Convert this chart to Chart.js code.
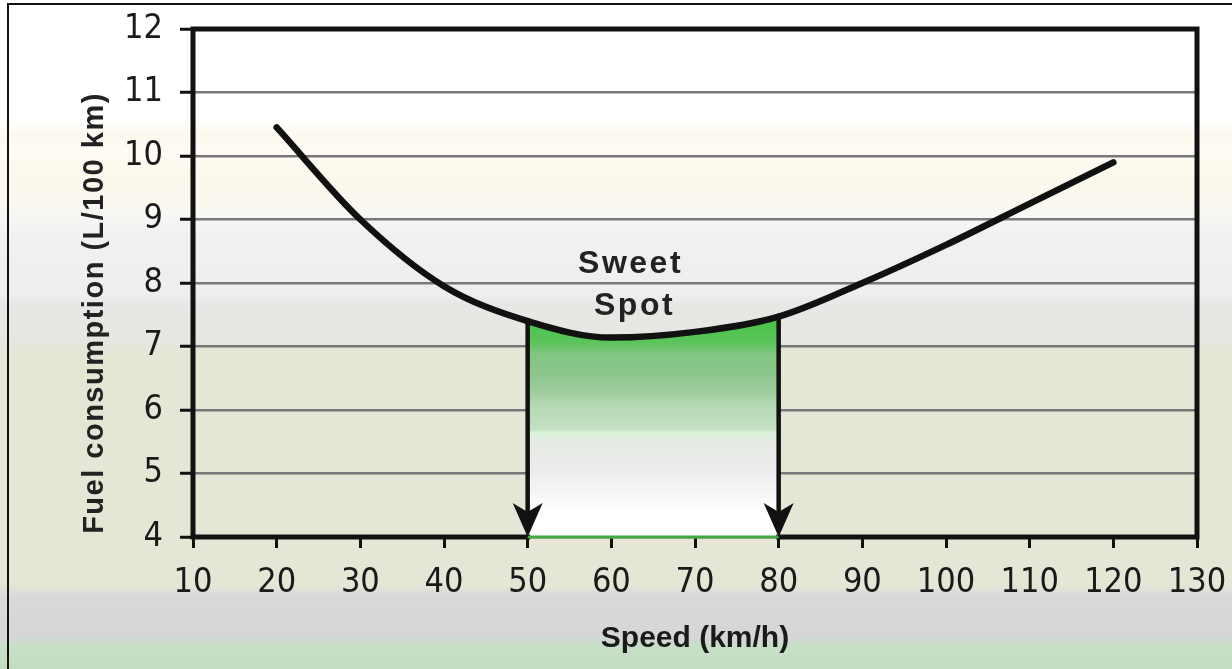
<!DOCTYPE html>
<html>
<head>
<meta charset="utf-8">
<title>Fuel consumption vs speed</title>
<script src="https://cdn.jsdelivr.net/npm/chart.js"></script>
<style>
  body { margin: 0; padding: 0; background: #fff; }
  #wrap { width: 1232px; height: 669px; }
</style>
</head>
<body>
<div id="wrap"><canvas id="fuelChart" width="1232" height="669"></canvas></div>
<script>
// speed (km/h) vs fuel use (L/100 km)
const speeds = [20, 30, 40, 50, 60, 70, 80, 90, 100, 110, 120];
const fuelUse = [10.45, 9.0, 7.95, 7.4, 7.14, 7.23, 7.47, 8.0, 8.6, 9.25, 9.9];
const sweetSpot = [50, 80];
const sweetLabel = ['Sweet', 'Spot'];
const xRange = [10, 130];
const yRange = [4, 12];
const xTitle = 'Speed (km/h)';
const yTitle = 'Fuel consumption (L/100 km)';

const tickFont = "'Liberation Sans Narrow', 'DejaVu Sans Condensed', sans-serif";
const boldFont = "'Liberation Sans', Arial, sans-serif";

let sweetGradient = 'rgba(0,0,0,0)';

// page background: soft horizontal bands
const bgPlugin = {
  id: 'bgBands',
  beforeDraw(chart) {
    const { ctx, width, height } = chart;
    const g = ctx.createLinearGradient(0, 0, 0, height);
    const stops = [
      [0, '#ffffff'], [120, '#ffffff'], [135, '#fcf9ee'], [150, '#fdfbf4'],
      [175, '#fcf8ec'], [205, '#fbf8f0'], [218, '#f6f6f4'], [235, '#f1f1ef'],
      [295, '#eeeeec'], [305, '#e7e7e5'], [340, '#e6e6e2'], [352, '#e6e6d6'],
      [585, '#e6e6d6'], [596, '#d9d9d9'], [635, '#d6d6d6'], [648, '#c6dfc6'],
      [669, '#c2ddc2']
    ];
    stops.forEach(([y, c]) => g.addColorStop(y / height, c));
    ctx.save();
    ctx.fillStyle = g;
    ctx.fillRect(0, 0, width, height);
    ctx.strokeStyle = '#111';
    ctx.lineWidth = 2;
    ctx.beginPath();
    ctx.moveTo(8, height);
    ctx.lineTo(8, 4);
    ctx.lineTo(width, 4);
    ctx.stroke();
    ctx.restore();
  }
};

// green fill gradient under the sweet spot, built from the y scale
const gradientPlugin = {
  id: 'sweetGradient',
  afterLayout(chart) {
    const y = chart.scales.y;
    const top = y.getPixelForValue(7.4);
    const bottom = y.getPixelForValue(yRange[0]);
    const g = chart.ctx.createLinearGradient(0, top, 0, bottom);
    const stops = [
      [0, '#46c446'], [0.10, '#5cc45c'], [0.15, '#80c680'], [0.24, '#8cc58c'],
      [0.34, '#a0cfa0'], [0.38, '#b3d8b3'], [0.50, '#c3e0c3'], [0.52, '#dcf4dc'],
      [0.56, '#e6ebe4'], [0.68, '#ebebeb'], [0.80, '#f6f6f6'], [0.89, '#ffffff'],
      [1, '#ffffff']
    ];
    stops.forEach(([f, c]) => g.addColorStop(f, c));
    sweetGradient = g;
  }
};

// frame, arrows, labels
const overlayPlugin = {
  id: 'overlay',
  afterDatasetsDraw(chart) {
    const { ctx, chartArea: a, scales: { x, y } } = chart;
    const meta = chart.getDatasetMeta(0);
    const x50 = x.getPixelForValue(sweetSpot[0]);
    const x80 = x.getPixelForValue(sweetSpot[1]);
    ctx.save();

    // frame
    ctx.strokeStyle = '#111';
    ctx.lineWidth = 5;
    ctx.lineCap = 'square';
    ctx.beginPath();
    ctx.moveTo(a.left, a.bottom);
    ctx.lineTo(a.left, a.top);
    ctx.lineTo(a.right, a.top);
    ctx.lineTo(a.right, a.bottom);
    ctx.lineTo(x80, a.bottom);
    ctx.moveTo(x50, a.bottom);
    ctx.lineTo(a.left, a.bottom);
    ctx.stroke();
    ctx.strokeStyle = '#45a845';
    ctx.lineWidth = 3;
    ctx.lineCap = 'butt';
    ctx.beginPath();
    ctx.moveTo(x50, a.bottom);
    ctx.lineTo(x80, a.bottom);
    ctx.stroke();

    // arrows down from the curve
    sweetSpot.forEach(v => {
      const i = speeds.indexOf(v);
      const px = x.getPixelForValue(v);
      const topY = meta.data[i].y;
      const tip = a.bottom;
      ctx.strokeStyle = '#111';
      ctx.lineWidth = 4.5;
      ctx.beginPath();
      ctx.moveTo(px, topY);
      ctx.lineTo(px, tip - 20);
      ctx.stroke();
      ctx.fillStyle = '#111';
      ctx.beginPath();
      ctx.moveTo(px, tip);
      ctx.lineTo(px - 15, tip - 34);
      ctx.lineTo(px, tip - 25);
      ctx.lineTo(px + 15, tip - 34);
      ctx.closePath();
      ctx.fill();
    });

    // "Sweet Spot"
    ctx.fillStyle = '#222';
    ctx.font = `bold 32px ${boldFont}`;
    ctx.letterSpacing = '2.5px';
    ctx.textAlign = 'center';
    ctx.textBaseline = 'alphabetic';
    const cx = x.getPixelForValue(62.3);
    ctx.fillText(sweetLabel[0], cx, y.getPixelForValue(8.16));
    ctx.fillText(sweetLabel[1], cx + 4, y.getPixelForValue(7.5));

    // y axis title
    ctx.font = `bold 29px ${boldFont}`;
    ctx.letterSpacing = '1.5px';
    ctx.textBaseline = 'middle';
    ctx.translate(95, (a.top + a.bottom) / 2 + 30);
    ctx.rotate(-Math.PI / 2);
    ctx.fillText(yTitle, 0, 0);
    ctx.restore();
  }
};

const fuelCtx = document.getElementById('fuelChart').getContext('2d');
new Chart(fuelCtx, {
  type: 'line',
  data: {
    datasets: [{
      data: speeds.map((s, i) => ({ x: s, y: fuelUse[i] })),
      borderColor: '#111',
      borderWidth: 6.5,
      borderCapStyle: 'round',
      pointRadius: 0,
      cubicInterpolationMode: 'monotone',
      fill: 'start',
      backgroundColor: 'rgba(0,0,0,0)',
      segment: {
        backgroundColor: c =>
          (c.p0.parsed.x >= sweetSpot[0] && c.p1.parsed.x <= sweetSpot[1]) ? sweetGradient : 'rgba(0,0,0,0)'
      }
    }]
  },
  options: {
    responsive: false,
    animation: false,
    layout: { padding: { top: 29, right: 35, bottom: 0, left: 0 } },
    plugins: {
      legend: { display: false },
      tooltip: { enabled: false }
    },
    scales: {
      x: {
        type: 'linear',
        min: xRange[0],
        max: xRange[1],
        afterFit: s => { s.height = 132; s.paddingLeft = 0; s.paddingRight = 0; },
        border: { display: false },
        grid: {
          drawOnChartArea: false,
          drawTicks: true,
          tickLength: 11,
          tickColor: '#111',
          tickWidth: 3
        },
        ticks: {
          stepSize: 10,
          padding: 15,
          color: '#1a1a1a',
          font: { family: tickFont, size: 34 }
        },
        title: {
          display: true,
          text: xTitle,
          color: '#1a1a1a',
          font: { family: boldFont, size: 30, weight: 'bold' },
          padding: { top: 0, bottom: 12 }
        }
      },
      y: {
        min: yRange[0],
        max: yRange[1],
        afterFit: s => { s.width = 193; s.paddingTop = 0; s.paddingBottom = 0; },
        border: { display: false },
        grid: {
          color: '#787878',
          lineWidth: 2.5,
          tickLength: 13,
          tickColor: '#111',
          tickWidth: 3
        },
        ticks: {
          stepSize: 1,
          padding: 17,
          color: '#1a1a1a',
          font: { family: tickFont, size: 34 }
        }
      }
    }
  },
  plugins: [bgPlugin, gradientPlugin, overlayPlugin]
});
</script>
</body>
</html>
